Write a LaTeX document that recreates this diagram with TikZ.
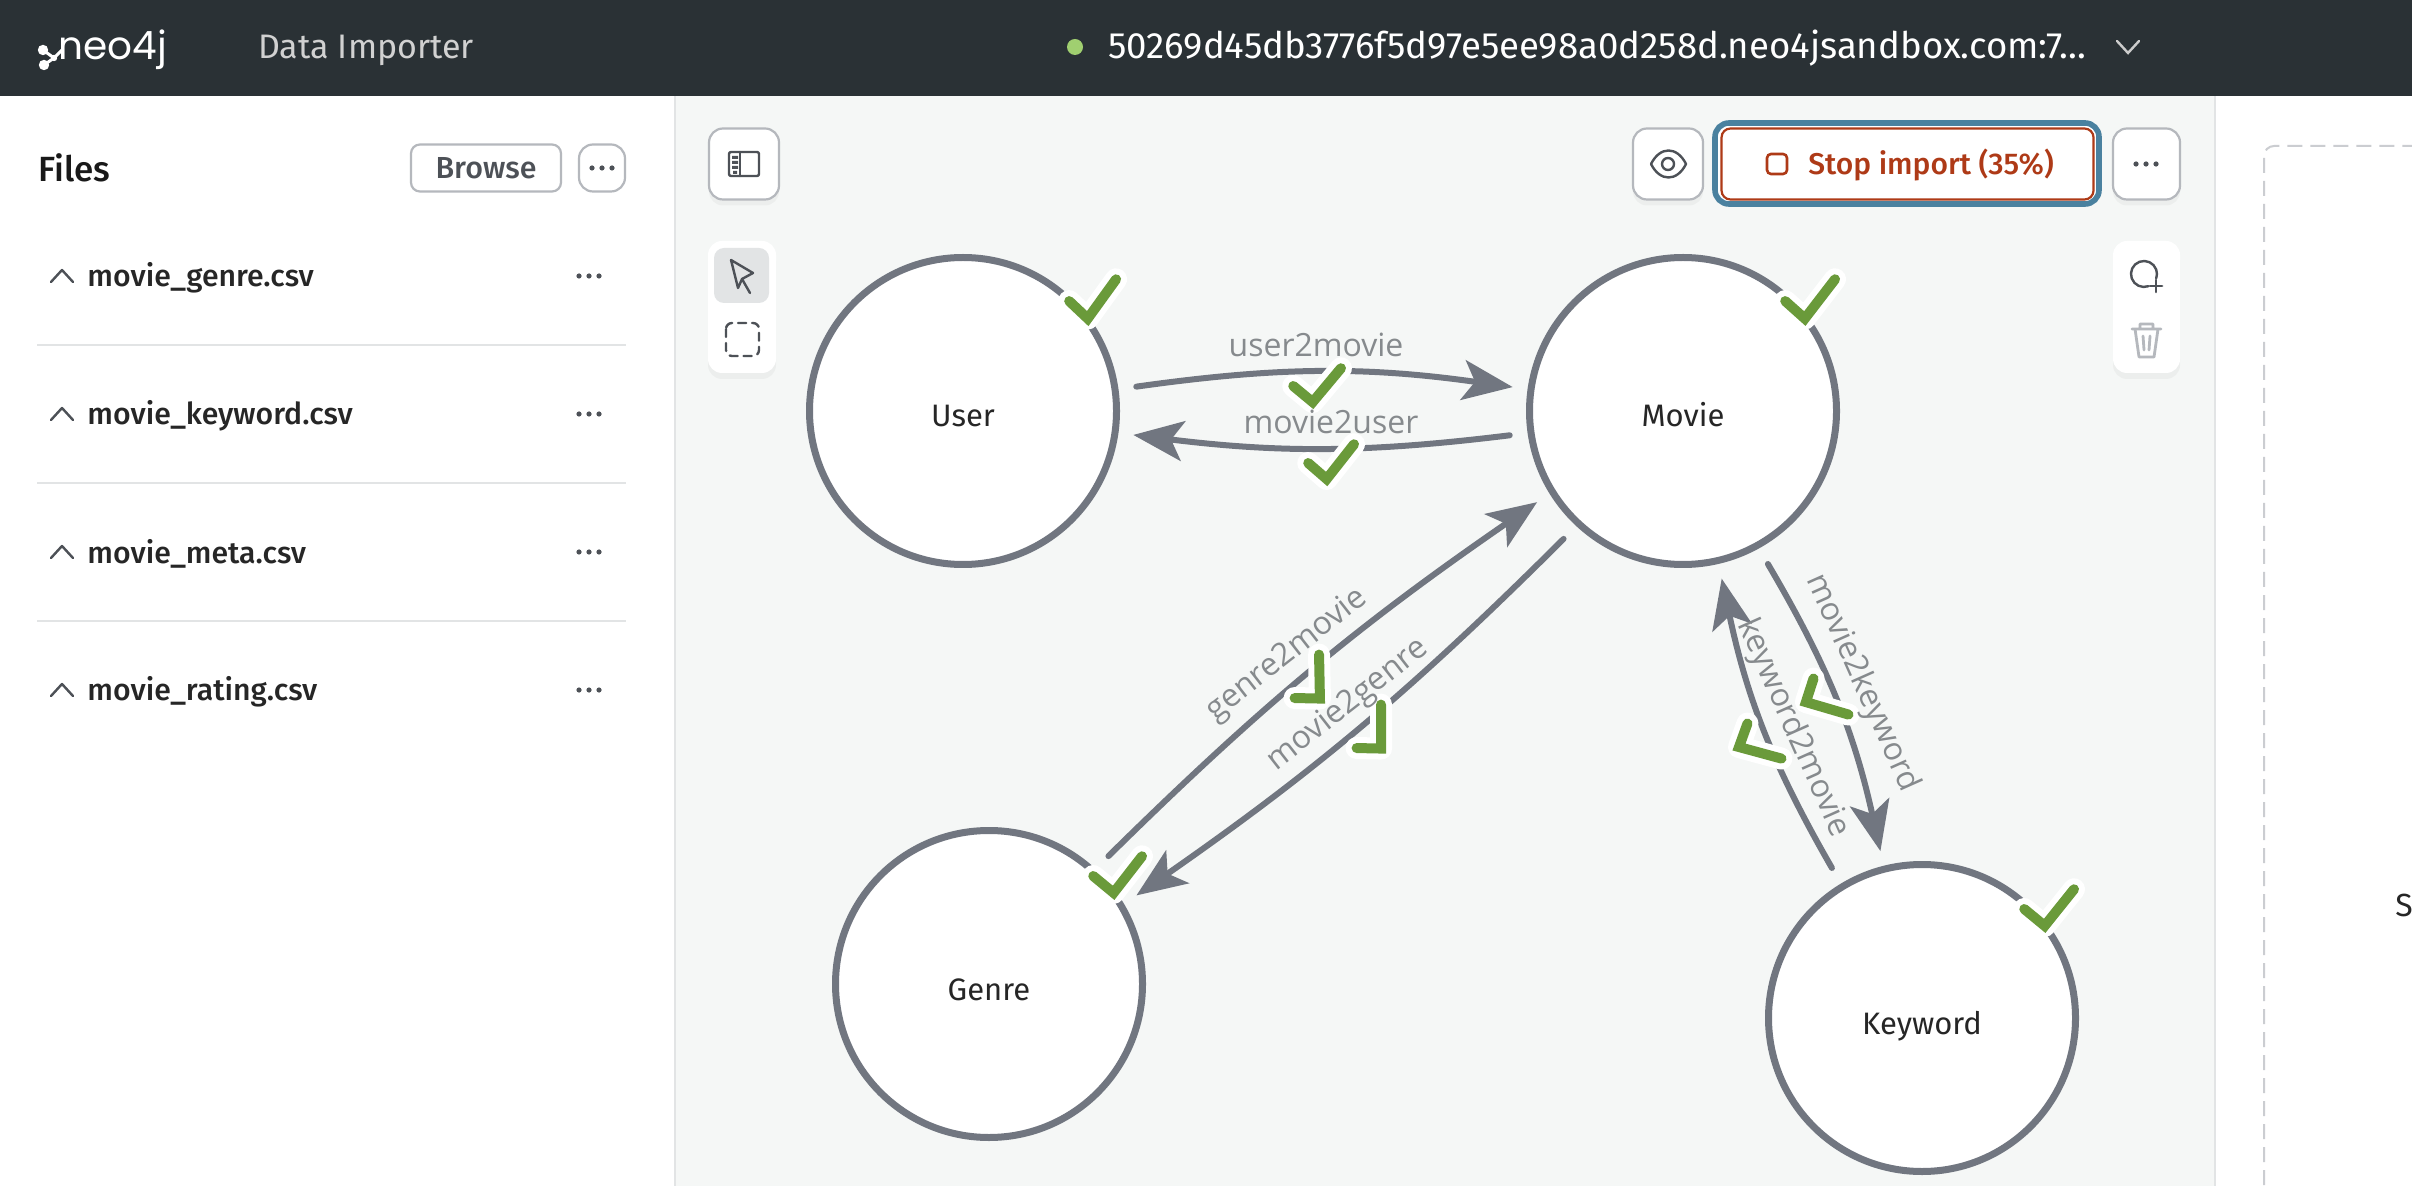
\documentclass[tikz,border=0pt]{standalone}
\usepackage{fontspec}
\setmainfont{Fira Sans}[BoldFont={Fira Sans Medium}]
\newfontfamily\edgefont{Open Sans}
\newfontfamily\logofont{Poppins}
\usetikzlibrary{arrows.meta,shadows,calc}
\definecolor{barblack}{RGB}{42,49,53}
\definecolor{canvasgray}{RGB}{245,247,246}
\definecolor{linegray}{RGB}{226,228,229}
\definecolor{edgegray}{RGB}{113,118,128}
\definecolor{labelgray}{RGB}{134,138,141}
\definecolor{inkgray}{RGB}{77,81,87}
\definecolor{softgray}{RGB}{181,184,189}
\definecolor{okgreen}{RGB}{106,154,58}
\definecolor{stopred}{RGB}{174,58,23}
\definecolor{focusteal}{RGB}{74,129,159}
\definecolor{dotgreen}{RGB}{160,207,112}
\tikzset{
  entity/.style={circle, draw=edgegray, line width=3.5pt, fill=white, minimum size=153.5pt,
                 inner sep=0pt, outer sep=9.25pt, font=\fontsize{15.5}{18}\selectfont, text=black!85,
                 text height=16pt, text depth=0pt},
  rel/.style={-{Stealth[length=25pt, width=20pt, inset=6pt]}, line width=3pt, edgegray, line cap=round,
              shorten <=1.5pt},
  rellabel/.style={font=\edgefont\fontsize{16}{19}\selectfont, text=labelgray, inner sep=0pt},
  filename/.style={anchor=west, inner sep=0pt, font=\fontsize{15.1}{18}\selectfont\bfseries, text=black!85},
  button/.style={rectangle, rounded corners=4.5pt, draw=softgray, line width=1.1pt, fill=white, inner sep=0pt,
                 font=\fontsize{15.2}{18}\selectfont\bfseries, text=inkgray},
  toolbox/.style={button, rounded corners=7pt, drop shadow={shadow xshift=0pt, shadow yshift=-3pt, opacity=0.07}},
  toolbar/.style={rectangle, rounded corners=7pt, fill=white, inner sep=0pt,
                  drop shadow={shadow xshift=0pt, shadow yshift=-3pt, opacity=0.07}},
  divider/.style={linegray, line width=1pt},
  icon/.style={inkgray, line width=1.2pt, line cap=round, line join=round},
  okhalo/.style={white, line width=11pt, line cap=round, line join=round},
  okline/.style={okgreen, line width=5pt, line cap=round, line join=miter},
}
\newcommand{\okmark}[3]{%
  \coordinate (okbend) at ($(#2)!0.13!($(#1)!0.5!(#3)$)$);
  \draw[okhalo, shorten <=0.8pt, shorten >=0.8pt] (#1) -- (okbend) -- (#3);
  \draw[okline, shorten <=0.8pt, shorten >=0.8pt] (#1) -- (okbend) -- (#3);
}
\newcommand{\threedots}[2]{%
  \fill[inkgray] (#1-10,#2) circle (1.3pt) (#1,#2) circle (1.3pt) (#1+10,#2) circle (1.3pt);
}
\newcommand{\chevup}[2]{%
  \draw[icon] (#1-11,#2+6) -- (#1,#2-6) -- (#1+11,#2+6);
}
\begin{document}
\begin{tikzpicture}[x=0.5pt, y=-0.5pt]
\clip (0,0) rectangle (2412,1186);
\fill[white] (0,0) rectangle (2412,1186);
\fill[canvasgray] (675,96) rectangle (2215,1186);
\draw[linegray, line width=1pt] (675,96) -- (675,1186);
\draw[linegray, line width=1pt] (2215,96) -- (2215,1186);
\draw[softgray!70, line width=1pt, dashed, dash pattern=on 7.5pt off 4pt, rounded corners=5pt] (2264,1300) -- (2264,146) -- (2600,146);
\node[anchor=west, inner sep=0pt, font=\fontsize{16}{19}\selectfont, text=black!85] (sidetext) at (2395,905) {S};

\fill[barblack] (0,0) rectangle (2412,96);
\node[anchor=base west, inner sep=0pt, text=white, font=\logofont\fontsize{19.5}{24}\selectfont] (logotext) at (58,60) {neo4j};
\draw[white, line width=1.5pt] (43,50) -- (54,58) -- (44,65) (54,58) -- (62,50);
\fill[white] (43,50) circle (2.6pt) (54,58) circle (1.6pt) (44,65) circle (2.6pt);
\node[anchor=west, inner sep=0pt, text=white!82!black, font=\fontsize{17}{20}\selectfont] (apptitle) at (258,50) {Data Importer};
\fill[dotgreen] (1075,47) circle (4pt);
\node[anchor=west, inner sep=0pt, text=white, font=\fontsize{18.3}{22}\selectfont] (hosturl) at (1108,48) {50269d45db3776f5d97e5ee98a0d258d.neo4jsandbox.com:7...};
\draw[white!80!black, line width=1.2pt, line cap=round] (2117,41) -- (2128,53) -- (2139,41);

\node[anchor=west, inner sep=0pt, font=\fontsize{17.5}{20}\selectfont\bfseries, text=black!90] (filestitle) at (38,168) {Files};
\node[button, minimum width=75pt, minimum height=23.5pt] (browse) at (486,168) {Browse};
\node[button, rounded corners=7pt, minimum width=23pt, minimum height=23.5pt] (filesmenu) at (602,168) {};
\threedots{602}{168}
\node[filename] (genrefile) at (87,278) {movie\_genre.csv};
\node[filename] (keywordfile) at (87,416) {movie\_keyword.csv};
\node[filename] (metafile) at (87,554) {movie\_meta.csv};
\node[filename] (ratingfile) at (87,692) {movie\_rating.csv};
\chevup{62}{276}
\chevup{62}{414}
\chevup{62}{552}
\chevup{62}{690}
\threedots{589}{276}
\threedots{589}{414}
\threedots{589}{552}
\threedots{589}{690}
\draw[divider] (37,345) -- (626,345);
\draw[divider] (37,483) -- (626,483);
\draw[divider] (37,621) -- (626,621);

\node[toolbox, minimum width=35pt, minimum height=35.5pt] (sidetoggle) at (744,164) {};
\draw[icon, rounded corners=1pt] (729,152) rectangle (759,176);
\draw[icon] (740,152) -- (740,176);
\fill[inkgray] (732,156) rectangle (738,159) (732,161) rectangle (738,164) (732,166) rectangle (738,169) (733,171) rectangle (737,174);
\node[toolbar, minimum width=34pt, minimum height=66pt] (pickbar) at (742,307) {};
\fill[linegray, rounded corners=5pt] (714,248) rectangle (769,303);
\draw[icon] (731,260) -- (738,288) -- (742,279) -- (753,273) -- cycle;
\draw[icon] (742,279) -- (750,293);
\draw[icon, dashed, dash pattern=on 4pt off 3pt, rounded corners=3pt] (726,323) rectangle (759,356);

\node[toolbox, minimum width=35pt, minimum height=35.5pt] (eyebutton) at (1668,164) {};
\draw[icon] (1651,164) .. controls (1660,146) and (1677,146) .. (1686,164) .. controls (1677,182) and (1660,182) .. (1651,164);
\draw[icon] (1668,164) circle (3pt);
\draw[focusteal, fill=white, line width=2.8pt, rounded corners=7pt] (1715,123) rectangle (2099,204);
\node[button, draw=stopred, minimum width=186pt, minimum height=35.5pt] (stopbutton) at (1907.5,164) {};
\node[inner sep=0pt, text=stopred, font=\fontsize{15}{18}\selectfont\bfseries] (stoplabel) at (1931,165) {Stop import (35\%)};
\draw[stopred, line width=1.3pt, rounded corners=2pt] (1767,154) rectangle (1787,174);
\node[toolbox, minimum width=33.5pt, minimum height=35.5pt] (moremenu) at (2146.5,164) {};
\threedots{2146}{164}
\node[toolbar, minimum width=33.5pt, minimum height=66pt] (editbar) at (2146.5,307) {};
\draw[icon] (2148.4,286.2) arc (-70:-380:6.5pt);
\draw[icon, line width=1.3pt] (2156,280) -- (2156,292) (2150,286) -- (2162,286);
\draw[icon, softgray, line width=1.4pt] (2132,329) -- (2161,329) (2135,329) -- (2139,357) -- (2154,357) -- (2158,329) (2140,329) -- (2140,324) -- (2153,324) -- (2153,329) (2143,336) -- (2144,350) (2150,336) -- (2149,350);

\node[entity] (user) at (963,411) {User};
\node[entity] (movie) at (1683,411) {Movie};
\node[entity] (genre) at (989,984) {Genre};
\node[entity] (keyword) at (1922,1018) {Keyword};

\draw[rel] (user.8) to[bend left=8] (movie.172);
\draw[rel] (movie.188) to[bend left=7] (user.352);
\draw[rel] (genre.47) to[bend left=5] (movie.212);
\draw[rel] (movie.227) to[bend left=5] (genre.31);
\draw[rel] (movie.299) to[bend left=9] (keyword.104);
\draw[rel] (keyword.121) to[bend left=9] (movie.283);

\okmark{1068,300}{1087,323}{1117,278}
\okmark{1784,300}{1804,323}{1836,278}
\okmark{1092,875}{1113,897}{1143,855}
\okmark{2023,908}{2044,930}{2075,888}
\okmark{1292,385}{1312,406}{1342,367}
\okmark{1307,462}{1326,483}{1355,443}
\okmark{1293,698}{1322,702}{1319,653}
\okmark{1355,748}{1383,752}{1381,703}
\okmark{1850,715}{1802,703}{1814,677}
\okmark{1783,759}{1735,748}{1748,722}

\node[rellabel] (user2movie) at (1316,345) {user2movie};
\node[rellabel] (movie2user) at (1331,422) {movie2user};
\node[rellabel, rotate=38] (genre2movie) at (1287,655) {genre2movie};
\node[rellabel, rotate=38] (movie2genre) at (1348,705) {movie2genre};
\node[rellabel, rotate=-66] (movie2keyword) at (1862,683) {movie2keyword};
\node[rellabel, rotate=-66] (keyword2movie) at (1793,728) {keyword2movie};
\end{tikzpicture}
\end{document}
